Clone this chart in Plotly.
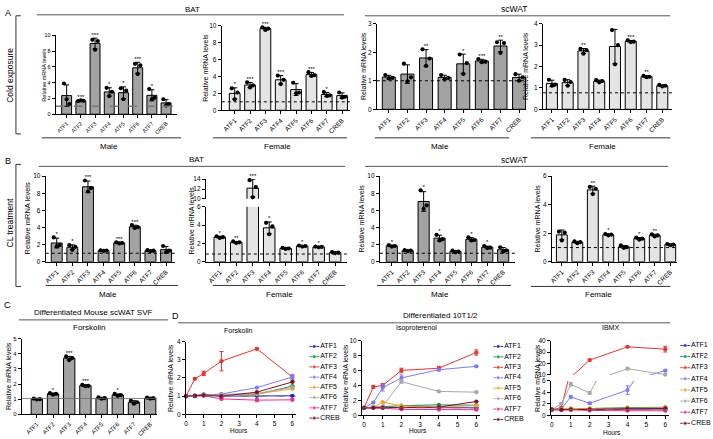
import plotly.graph_objects as go
import numpy as np

W, H = 713, 439
FONT = "Liberation Sans, Arial, sans-serif"

cats = ["ATF1", "ATF2", "ATF3", "ATF4", "ATF5", "ATF6", "ATF7", "CREB"]
hours = [0, 0.5, 1, 2, 4, 6]

# ---------- Panel A: cold exposure (3 replicates per gene) ----------
a_bat_male = [[3.9, 1.9, 1.3], [1.65, 1.75, 1.7], [9.45, 8.2, 9.3], [3.35, 2.3, 2.85],
              [3.3, 1.9, 3.0], [6.4, 5.1, 6.2], [3.2, 1.9, 2.1], [1.9, 1.1, 1.3]]
a_bat_male_sig = ["", "***", "***", "*", "*", "***", "*", ""]

a_bat_female = [[2.6, 1.3, 2.1], [3.3, 2.7, 2.95], [9.8, 9.5, 9.65], [4.1, 3.1, 3.6],
                [3.25, 2.0, 2.1], [4.5, 4.05, 4.15], [2.15, 1.7, 1.75], [2.1, 1.5, 1.6]]
a_bat_female_sig = ["*", "***", "***", "***", "", "***", "*", ""]

a_scwat_male = [[1.2, 1.08, 1.1], [1.6, 0.98, 1.12], [2.1, 1.52, 1.78], [1.2, 1.05, 1.1],
                [1.92, 1.24, 1.62], [1.76, 1.65, 1.67], [2.35, 1.98, 2.32], [1.23, 1.0, 1.12]]
a_scwat_male_sig = ["", "", "**", "", "*", "***", "**", ""]

a_scwat_female = [[1.38, 1.1, 1.15], [1.37, 1.1, 1.27], [2.82, 2.6, 2.76], [1.36, 1.26, 1.32],
                  [3.7, 2.1, 3.0], [3.22, 3.14, 3.16], [1.56, 1.5, 1.52], [1.14, 1.07, 1.1]]
a_scwat_female_sig = ["", "", "**", "", "", "***", "**", ""]

# ---------- Panel B: CL treatment ----------
b_bat_male = [[2.85, 1.8, 1.95], [1.95, 1.4, 1.75], [9.5, 8.2, 8.6], [1.35, 1.27, 1.3],
              [2.28, 2.15, 2.2], [4.3, 3.95, 4.05], [1.36, 1.26, 1.3], [1.85, 1.12, 1.3]]
b_bat_male_sig = ["*", "*", "***", "", "***", "***", "", ""]

b_bat_female = [[2.78, 2.6, 2.68], [2.22, 2.06, 2.12], [13.8, 10.3, 12.4], [4.25, 3.0, 3.85],
                [1.52, 1.4, 1.45], [1.78, 1.66, 1.72], [1.66, 1.58, 1.62], [1.06, 0.95, 1.0]]
b_bat_female_sig = ["*", "**", "***", "*", "", "*", "*", ""]

b_scwat_male = [[1.95, 1.78, 1.85], [1.36, 1.25, 1.3], [8.35, 6.2, 6.6], [3.15, 2.5, 2.65],
                [1.3, 1.12, 1.2], [2.85, 2.5, 2.55], [1.85, 1.6, 1.65], [1.7, 1.2, 1.35]]
b_scwat_male_sig = ["*", "", "*", "*", "", "*", "*", ""]

b_scwat_female = [[2.12, 1.5, 2.05], [1.43, 1.3, 1.38], [5.25, 4.75, 5.12], [1.95, 1.86, 1.9],
                  [1.15, 0.98, 1.03], [1.7, 1.56, 1.62], [1.93, 1.78, 1.85], [1.25, 1.16, 1.2]]
b_scwat_female_sig = ["", "", "**", "*", "", "*", "**", ""]

# ---------- Panel C: differentiated mouse scWAT SVF, forskolin ----------
c_svf = [[1.04, 0.98, 1.0], [1.4, 1.3, 1.35], [3.82, 3.58, 3.72], [1.95, 1.86, 1.88],
         [1.12, 1.03, 1.07], [1.35, 1.22, 1.27], [0.9, 0.7, 0.8], [1.1, 1.04, 1.07]]
c_svf_sig = ["", "*", "***", "***", "", "*", "", ""]

# ---------- Panel D: differentiated 10T1/2 time courses (rows follow cats) ----------
forskolin_mean = [
    [1, 1.02, 1.08, 1.0, 1.02, 1.02],
    [1, 1.03, 1.08, 1.1, 1.1, 1.55],
    [1, 1.95, 2.25, 2.92, 3.6, 2.05],
    [1, 1.04, 1.06, 1.12, 1.47, 2.05],
    [1, 1.02, 1.05, 1.05, 1.12, 1.4],
    [1, 1.03, 1.05, 1.08, 1.15, 1.48],
    [1, 1.0, 1.02, 0.85, 0.78, 0.8],
    [1, 1.02, 1.05, 1.0, 1.22, 1.78],
]
forskolin_sd = [
    [0, 0, 0.03, 0, 0, 0.03], [0, 0, 0, 0, 0, 0], [0, 0.04, 0.12, 0.53, 0.05, 0.1],
    [0, 0, 0, 0, 0, 0.15], [0, 0, 0, 0, 0, 0], [0, 0, 0, 0, 0, 0],
    [0, 0, 0, 0.05, 0.08, 0.05], [0, 0, 0, 0, 0, 0],
]
isoproterenol_mean = [
    [1, 1.05, 1.05, 1.05, 1.0, 1.0],
    [1, 1.1, 1.15, 1.3, 1.4, 1.35],
    [1, 3.8, 4.0, 6.0, 6.3, 8.4],
    [1, 1.7, 3.7, 5.0, 6.1, 6.55],
    [1, 1.1, 1.77, 1.25, 1.1, 1.3],
    [1, 1.1, 1.2, 4.5, 3.2, 3.1],
    [1, 1.0, 0.95, 0.8, 0.75, 0.75],
    [1, 1.0, 1.05, 1.0, 1.1, 1.85],
]
isoproterenol_sd = [
    [0, 0, 0, 0, 0, 0], [0, 0, 0, 0, 0, 0], [0, 0.2, 0.25, 0.3, 0.25, 0.35],
    [0, 0.1, 0.45, 0.4, 0.15, 0.1], [0, 0, 0, 0, 0, 0], [0, 0, 0, 0.2, 0.1, 0.1],
    [0, 0, 0, 0, 0, 0], [0, 0, 0, 0, 0, 0],
]
ibmx_mean = [
    [1, 1.0, 1.05, 1.05, 1.05, 1.1],
    [1, 1.05, 1.1, 1.15, 1.35, 1.4],
    [1, 1.3, 8.0, 23.0, 34.5, 32.5],
    [1, 1.15, 3.2, 2.1, 4.4, 13.8],
    [1, 1.1, 1.2, 1.2, 1.25, 1.3],
    [1, 2.0, 5.4, 3.9, 15.5, 10.3],
    [1, 0.9, 0.95, 0.85, 0.8, 0.8],
    [1, 1.0, 1.05, 1.05, 1.15, 1.2],
]
ibmx_sd = [
    [0, 0, 0, 0, 0, 0], [0, 0, 0, 0, 0, 0], [0, 0.2, 0, 0.8, 0.6, 2.5],
    [0, 0, 0.15, 0.2, 0.75, 0.4], [0, 0, 0, 0, 0, 0], [0, 0.15, 0.3, 0.25, 0.5, 0.5],
    [0, 0, 0, 0, 0, 0], [0, 0, 0, 0, 0, 0],
]

line_colors = ["#2323c8", "#1e8a4c", "#e8332f", "#7c7cf0", "#f5a524", "#a8a8a8", "#ea2e92", "#7b1526"]
MALE = "#a3a3a3"
FEMALE = "#e4e4e4"


def px(x):
    return x / W


def py(y):
    return 1 - y / H


fig = go.Figure()
axes_layout = {}
shapes = []
annotations = []
count = [0]


def new_axes(xpx, ypx, xr, yr, xkw=None, ykw=None, fs=6.5):
    count[0] += 1
    n = count[0]
    s = "" if n == 1 else str(n)
    base = dict(showgrid=False, zeroline=False, showline=True, linecolor="black", linewidth=1,
                ticks="outside", ticklen=3, tickwidth=1, tickcolor="black",
                tickfont=dict(size=fs, color="black", family=FONT), fixedrange=True)
    xa = dict(base, domain=[px(xpx[0]), px(xpx[1])], range=xr, anchor="y" + s)
    ya = dict(base, domain=[py(ypx[0]), py(ypx[1])], range=yr, anchor="x" + s)
    if xkw:
        xa.update(xkw)
    if ykw:
        ya.update(ykw)
    axes_layout["xaxis" + s] = xa
    axes_layout["yaxis" + s] = ya
    return "x" + s, "y" + s


def text(s, x, y, size=8, xanchor="center", angle=0):
    annotations.append(dict(text=s, x=px(x), y=py(y), xref="paper", yref="paper", showarrow=False,
                            font=dict(size=size, color="black", family=FONT),
                            xanchor=xanchor, yanchor="middle", textangle=angle))


def seg(x0, y0, x1, y1, color="#333333", width=1):
    shapes.append(dict(type="line", xref="paper", yref="paper", x0=px(x0), y0=py(y0),
                       x1=px(x1), y1=py(y1), line=dict(color=color, width=width)))


OFFS = [-0.19, 0.0, 0.19]


def draw_bars(xa, ya, pts, sig, color, lo, hi):
    means = [float(np.mean(p)) for p in pts]
    sds = [float(np.std(p, ddof=1)) for p in pts]
    fig.add_trace(go.Bar(x=list(range(len(pts))), y=means, width=0.7,
                         marker=dict(color=color, line=dict(color="black", width=1)),
                         error_y=dict(type="data", array=sds, visible=True, color="black",
                                      thickness=1, width=2.5),
                         xaxis=xa, yaxis=ya, showlegend=False, hoverinfo="skip"))
    xs, ys = [], []
    for i, p in enumerate(pts):
        for j, v in enumerate(p):
            if lo <= v <= hi:
                xs.append(i + OFFS[j])
                ys.append(v)
    fig.add_trace(go.Scatter(x=xs, y=ys, mode="markers", marker=dict(color="black", size=4.2),
                             cliponaxis=False, xaxis=xa, yaxis=ya, showlegend=False, hoverinfo="skip"))
    sx, sy, st = [], [], []
    for i, p in enumerate(pts):
        top = max(means[i] + sds[i], max(p))
        if sig[i] and top >= lo:
            sx.append(i)
            sy.append(top)
            st.append(sig[i])
    fig.add_trace(go.Scatter(x=sx, y=sy, text=st, mode="text", textposition="top center",
                             textfont=dict(size=6, color="black", family=FONT),
                             cliponaxis=False, xaxis=xa, yaxis=ya, showlegend=False, hoverinfo="skip"))


def cat_range(xpx):
    x0, c0, c7, x1 = xpx
    s = (c7 - c0) / 7
    return [(x0 - c0) / s, 7 + (x1 - c7) / s]


def bar_panel(xpx, ypx, yr, tv, pts, sig, color, ref, ref_line=None, fs=6.5):
    xr = cat_range(xpx)
    xa, ya = new_axes((xpx[0], xpx[3]), ypx, xr, yr,
                      dict(tickvals=list(range(8)), ticktext=cats, tickangle=-45),
                      dict(tickvals=tv), fs=fs)
    draw_bars(xa, ya, pts, sig, color, yr[0], 1e9)
    shapes.append(dict(type="line", xref=xa, yref=ya, x0=xr[0], x1=xr[1], y0=ref, y1=ref,
                       line=ref_line or dict(color="black", width=1, dash="dot")))


def broken_bar_panel(xpx, ypx_lo, yr_lo, tv_lo, ypx_hi, yr_hi, tv_hi, pts, sig, color, ref):
    xr = cat_range(xpx)
    xa, ya = new_axes((xpx[0], xpx[3]), ypx_lo, xr, yr_lo,
                      dict(tickvals=list(range(8)), ticktext=cats, tickangle=-45),
                      dict(tickvals=tv_lo))
    means = [float(np.mean(p)) for p in pts]
    sds = [float(np.std(p, ddof=1)) for p in pts]
    sig_lo = [s if max(means[i] + sds[i], max(pts[i])) <= yr_lo[1] else "" for i, s in enumerate(sig)]
    sig_hi = [s if max(means[i] + sds[i], max(pts[i])) > yr_lo[1] else "" for i, s in enumerate(sig)]
    draw_bars(xa, ya, pts, sig_lo, color, yr_lo[0], yr_lo[1])
    shapes.append(dict(type="line", xref=xa, yref=ya, x0=xr[0], x1=xr[1], y0=ref, y1=ref,
                       line=dict(color="black", width=1, dash="dot")))
    xb, yb = new_axes((xpx[0], xpx[3]), ypx_hi, xr, yr_hi,
                      dict(visible=False), dict(tickvals=tv_hi))
    draw_bars(xb, yb, pts, sig_hi, color, yr_hi[0], 1e9)


def draw_lines(xa, ya, means, sds, yr):
    for k, (m, sd, col) in enumerate(zip(means, sds, line_colors)):
        fig.add_trace(go.Scatter(x=hours, y=m, mode="lines", line=dict(color=col, width=1),
                                 xaxis=xa, yaxis=ya, showlegend=False, hoverinfo="skip"))
        idx = [i for i, v in enumerate(m) if yr[0] <= v <= yr[1]]
        fig.add_trace(go.Scatter(x=[hours[i] for i in idx], y=[m[i] for i in idx], mode="markers",
                                 marker=dict(color=col, size=4.2),
                                 error_y=dict(type="data", array=[sd[i] for i in idx], color=col,
                                              thickness=1, width=2),
                                 cliponaxis=False, xaxis=xa, yaxis=ya, showlegend=False, hoverinfo="skip"))


def line_panel(xpx0, x0px, x6px, ypx, yr, tv, means, sds):
    s = (x6px - x0px) / 6
    xr = [(xpx0 - x0px) / s, 6.2]
    xa, ya = new_axes((xpx0, x0px + 6.2 * s), ypx, xr, yr,
                      dict(tickvals=list(range(7))), dict(tickvals=tv))
    draw_lines(xa, ya, means, sds, yr)
    shapes.append(dict(type="line", xref=xa, yref=ya, x0=xr[0], x1=xr[1], y0=1, y1=1,
                       line=dict(color="#777777", width=0.8, dash="dash")))


def broken_line_panel(xpx0, x0px, x6px, ypx_lo, yr_lo, tv_lo, ypx_hi, yr_hi, tv_hi, means, sds):
    s = (x6px - x0px) / 6
    xr = [(xpx0 - x0px) / s, 6.2]
    xa, ya = new_axes((xpx0, x0px + 6.2 * s), ypx_lo, xr, yr_lo,
                      dict(tickvals=list(range(7))), dict(tickvals=tv_lo))
    draw_lines(xa, ya, means, sds, yr_lo)
    shapes.append(dict(type="line", xref=xa, yref=ya, x0=xr[0], x1=xr[1], y0=1, y1=1,
                       line=dict(color="#777777", width=0.8, dash="dash")))
    xb, yb = new_axes((xpx0, x0px + 6.2 * s), ypx_hi, xr, yr_hi,
                      dict(visible=False), dict(tickvals=tv_hi))
    draw_lines(xb, yb, means, sds, yr_hi)


def legend_block(lx0, lx1, yfirst, spacing):
    # legend area: line segment spans x 0..1, labels sit at x 1.15 (within range 0..3)
    w = lx1 - lx0
    xa, ya = new_axes((lx0, lx0 + 3 * w), (yfirst + 7.5 * spacing, yfirst - 0.5 * spacing), [0, 3], [7.5, -0.5],
                      dict(visible=False), dict(visible=False))
    for i, (name, col) in enumerate(zip(cats, line_colors)):
        fig.add_trace(go.Scatter(x=[0, 0.5, 1], y=[i, i, i], mode="lines+markers",
                                 line=dict(color=col, width=1), marker=dict(color=col, size=[0, 4.2, 0]),
                                 cliponaxis=False, xaxis=xa, yaxis=ya, showlegend=False, hoverinfo="skip"))
        fig.add_trace(go.Scatter(x=[1.1], y=[i], mode="text", text=[name], textposition="middle right",
                                 textfont=dict(size=7, color="black", family=FONT),
                                 cliponaxis=False, xaxis=xa, yaxis=ya, showlegend=False, hoverinfo="skip"))


# ---------------- Row A ----------------
bar_panel((52, 63, 163, 174), (112, 32), [0, 10], [0, 2, 4, 6, 8, 10], a_bat_male, a_bat_male_sig, MALE, 1,
          ref_line=dict(color="#777777", width=1.5, dash="dash"), fs=5.5)
bar_panel((219, 232, 340, 348), (108, 22), [0, 10], [0, 2, 4, 6, 8, 10], a_bat_female, a_bat_female_sig, FEMALE, 1)
bar_panel((375, 387, 518, 525), (107, 20), [0, 3], [0, 1, 2, 3], a_scwat_male, a_scwat_male_sig, MALE, 1)
bar_panel((542, 551, 662, 672), (107, 20), [0, 4], [0, 1, 2, 3, 4], a_scwat_female, a_scwat_female_sig, FEMALE, 0.77)

# ---------------- Row B ----------------
bar_panel((42, 53, 163, 172), (262, 175), [0, 10], [0, 2, 4, 6, 8, 10], b_bat_male, b_bat_male_sig, MALE, 1)
broken_bar_panel((203, 217, 333, 345), (262, 206), [0, 6], [0, 2, 4, 6], (198, 178), [10, 14], [10, 12, 14],
                 b_bat_female, b_bat_female_sig, FEMALE, 0.85)
bar_panel((378, 390, 502, 514), (262, 175), [0, 10], [0, 2, 4, 6, 8, 10], b_scwat_male, b_scwat_male_sig, MALE, 1)
bar_panel((551, 561, 670, 677), (262, 175), [0, 6], [0, 2, 4, 6], b_scwat_female, b_scwat_female_sig, FEMALE, 1)

# ---------------- Row C ----------------
bar_panel((18, 33, 147, 154), (417, 340), [0, 5], [0, 1, 2, 3, 4, 5], c_svf, c_svf_sig, MALE, 1.05,
          ref_line=dict(color="#666666", width=0.8), fs=6)

# ---------------- Row D ----------------
line_panel(183, 183, 290, (417, 343), [0, 4], [0, 1, 2, 3, 4], forskolin_mean, forskolin_sd)
line_panel(360, 362, 475, (418, 342), [0, 10], [0, 2, 4, 6, 8, 10], isoproterenol_mean, isoproterenol_sd)
broken_line_panel(550, 551, 665, (418, 383), [0, 6], [0, 2, 4, 6], (377, 342), [10, 40], [10, 20, 30, 40],
                  ibmx_mean, ibmx_sd)
legend_block(307, 317, 348, 10.4)
legend_block(492, 502, 348, 10.6)
legend_block(680, 690, 347, 11.3)

# ---------------- Titles, headers, brackets ----------------
YT = "Relative mRNA levels"
text(YT, 40, 72, 5.5, angle=-90)
text(YT, 203, 65, 7, angle=-90)
text(YT, 362, 63, 7, angle=-90)
text(YT, 525, 63, 7, angle=-90)
text(YT, 24, 218, 7.5, angle=-90)
text(YT, 189, 220, 7, angle=-90)
text(YT, 360, 218, 7, angle=-90)
text(YT, 537, 218, 7, angle=-90)
text(YT, 5, 378, 7, angle=-90)
text(YT, 168, 380, 7, angle=-90)
text(YT, 344, 380, 7, angle=-90)
text(YT, 537, 380, 7, angle=-90)

text("A", 4, 9, 9)
text("B", 4, 160, 9)
text("C", 4, 306, 9)
text("D", 172, 317, 9)

text("Cold exposure", 6, 72, 8.5, angle=-90)
seg(12, 12, 12, 132)
seg(12, 12, 17, 12)
seg(12, 132, 17, 132)
text("CL treatment", 6, 222, 8.5, angle=-90)
seg(12, 163, 12, 287)
seg(12, 163, 17, 163)
seg(12, 287, 17, 287)

text("BAT", 180, 6, 8, xanchor="left")
seg(33, 11, 342, 11, "#555555")
text("scWAT", 528, 5, 8.5, xanchor="right")
seg(363, 12, 670, 12, "#555555")

seg(38, 136, 178, 136)
text("Male", 106, 145, 8)
seg(210, 136, 345, 136)
text("Female", 275, 145, 8)
seg(373, 136, 508, 136)
text("Male", 438, 145, 8)
seg(530, 136, 670, 136)
text("Female", 602, 145, 8)

text("BAT", 184, 158, 8, xanchor="left")
seg(35, 165, 343, 165, "#555555")
text("scWAT", 528, 159, 8.5, xanchor="right")
seg(363, 165, 668, 165, "#555555")

seg(42, 286, 175, 286)
text("Male", 105, 295, 8)
seg(210, 286, 343, 286)
text("Female", 277, 295, 8)
seg(375, 286, 510, 286)
text("Male", 438, 295, 8)
seg(530, 287, 670, 287)
text("Female", 598, 295, 8)

text("Differentiated Mouse scWAT SVF", 90, 314, 8)
seg(15, 321, 165, 321, "#555555")
text("Forskolin", 85, 329, 8)

text("Differentiated 10T1/2", 439, 317, 8)
seg(175, 324, 670, 324, "#555555")
text("Forskolin", 236, 332, 7)
text("Isoproterenol", 415, 329, 7)
text("IBMX", 610, 329, 7)
text("Hours", 236, 433, 6.5)
text("Hours", 416, 433, 6.5)
text("Hours", 611, 435, 6.5)

fig.update_layout(width=W, height=H, margin=dict(l=0, r=0, t=0, b=0),
                  paper_bgcolor="white", plot_bgcolor="rgba(0,0,0,0)",
                  showlegend=False, bargap=0.3, shapes=shapes, annotations=annotations,
                  font=dict(family=FONT, color="black"), **axes_layout)
fig.write_html("out.html", config={"displayModeBar": False},
               post_script="document.body.style.margin='0px';document.body.style.overflow='hidden';")
